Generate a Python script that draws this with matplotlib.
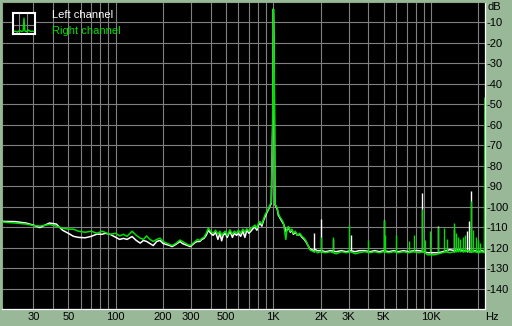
import matplotlib
matplotlib.use("Agg")
import matplotlib.pyplot as plt

plt.rcParams['font.family'] = ['Liberation Sans', 'DejaVu Sans']

# ---------------- data ----------------
freq = [19, 23, 27, 30, 33, 38, 42, 46, 50, 54, 58, 64, 70, 76, 82, 86, 92, 100,
        106, 112, 118, 127, 135, 143, 150, 157, 165, 173, 182, 191, 200, 210, 220,
        228, 240, 256, 265, 275, 286, 297, 308, 319, 330, 342, 352, 363, 375, 387,
        400, 415, 430, 445, 458, 470, 480, 495, 510, 530, 550, 565, 585, 600, 620,
        640, 660, 678, 700, 720, 747, 765, 786, 805, 822, 845, 864, 885, 908, 930,
        953, 970, 990, 1000, 1010, 1023, 1040, 1060, 1074, 1100, 1130, 1160, 1200,
        1220, 1245, 1280, 1310, 1340, 1380, 1420, 1470, 1520, 1570, 1620, 1660,
        1700, 1750, 1800, 1850, 1900, 2000, 2150, 2300, 2500, 2700, 2900, 3100,
        3300, 3500, 3800, 4100, 4400, 4700, 5000, 5400, 5800, 6200, 6700, 7200,
        7800, 8400, 9000, 9500, 10000, 10600, 11200, 11800, 12500, 13200, 14000,
        15000, 16000, 17000, 18000, 19000, 20000, 21000, 21800, 21950]

right_db = [-107.5, -108, -108.5, -109.2, -109.5, -108.7, -109.5, -110.5, -111, -111,
            -112, -112.5, -112, -113, -112, -112.6, -113.5, -113,
            -114.3, -113.5, -114.5, -112, -114, -115.4, -116, -114.3, -116, -117,
            -116, -115.4, -117, -117.8, -118.5, -119, -118, -116.3, -117, -117.8,
            -118.5, -119, -118, -117, -116, -116.5, -115.5, -115, -113, -110.5,
            -112, -113, -111.5, -113.5, -112, -114, -113, -112, -114, -111.3,
            -113.5, -112, -113, -111.5, -113, -111, -112.5, -110.8, -112, -110.5,
            -109.7, -109, -110.5, -108, -107.3, -108.5, -106.4, -104, -102.4, -101,
            -99, -98, -60, -3.5, -20, -98.6, -99.5, -101, -103.2, -105, -106.4,
            -108, -116, -111, -109.7, -112, -111, -113, -112, -114, -113, -114.5,
            -115.5, -117, -119, -121, -121.5, -122, -121.5, -122.5, -122, -122.5,
            -122, -123, -122, -122.5, -122, -123, -122.5, -122, -122.5, -122,
            -122.5, -122, -122.5, -122, -122.5, -122, -122.5, -122, -122.5, -122,
            -123.5, -123.5, -123.5, -123, -122.5, -122, -122.5, -122, -121.5, -122,
            -121.5, -122, -122, -122.5, -122, -122.5, -47]

left_db = [-107.2, -107.3, -108, -109, -110.2, -108, -108.5, -111.5, -113, -114.5,
           -115, -115.2, -114.5, -113.4, -113.5, -113, -113.5, -115,
           -116, -115.5, -116, -114.6, -116.5, -117.8, -116.5, -117, -118, -119,
           -117, -116.5, -118, -118.5, -119, -119.5, -118.5, -117, -118, -118.5,
           -119, -119.5, -118.5, -117.5, -117, -117, -116, -115.5, -114, -111.5,
           -113, -114, -112.5, -116, -113, -116.7, -114, -113, -115, -112,
           -115, -113, -114, -113, -114.5, -112, -115, -111.5, -113, -112,
           -110.5, -110, -111.5, -109, -108, -109.5, -107, -105, -103, -101.5,
           -99.5, -98.5, -60, -3.5, -20, -99, -100, -101.5, -104, -105.5, -107,
           -108.5, -112, -111.5, -110, -112.5, -111.5, -113.5, -112.5, -114,
           -113.5, -115, -116, -117.5, -119, -120.5, -121, -121.5, -121, -121.5,
           -121.5, -122, -121.5, -122, -121.5, -122, -121.5, -122, -121.5, -121.5,
           -122, -121.5, -122, -121.5, -122, -121.5, -122, -121.5, -122, -121.5,
           -121.5, -122, -122.5, -122.5, -122.5, -122.5, -122, -121.5, -121, -121.5,
           -121, -121.5, -121.5, -122, -121.5, -122, -121.5, -122, -122]

left_spike_freq = [1800, 2000, 2400, 3100, 5000, 8800, 11000, 13900, 17000, 17500, 17900]
left_spike_db = [-113, -106, -116, -114, -106.5, -93.4, -109.4, -111, -111.7, -107, -92.3]

right_spike_freq = [2000, 2400, 3000, 4000, 5000, 5100, 6000, 7200, 7800, 8800, 9200,
                    9800, 11000, 12100, 12700, 14000, 14400, 14800, 15300, 15900,
                    16500, 17900, 18400, 19200, 19900, 20500]
right_spike_db = [-115, -115, -109, -116.5, -106.5, -114, -114, -117, -114, -101, -116.5,
                  -112, -110, -110.4, -116, -107.8, -113, -114.6, -116, -115,
                  -113.8, -97.2, -111.6, -115, -116.3, -117.6]
spike_floor = -122

grid_freqs = [30, 40, 50, 60, 70, 80, 90, 100, 200, 300, 400, 500, 600, 700, 800, 900,
              1000, 2000, 3000, 4000, 5000, 6000, 7000, 8000, 9000, 10000, 20000]
x_labels = {30: '30', 50: '50', 100: '100', 200: '200', 300: '300', 500: '500',
            1000: '1K', 2000: '2K', 3000: '3K', 5000: '5K', 10000: '10K'}
y_ticks = [-10, -20, -30, -40, -50, -60, -70, -80, -90, -100, -110, -120, -130, -140]

icon_x = [0, 1, 2, 3, 4, 4.6, 5, 5.4, 6, 7, 8, 9, 10]
icon_y = [1.2, 1.5, 1.0, 1.8, 1.3, 1.6, 7.5, 1.6, 1.2, 2.0, 1.3, 1.5, 1.1]

# ---------------- style ----------------
W, H = 512, 326
BG = '#98b898'
GREEN = '#00e000'
GRID = '#808080'

fig = plt.figure(figsize=(W / 100, H / 100), dpi=100, facecolor=BG)
ax = fig.add_axes([2 / W, 1 - 309 / H, 483 / W, 307 / H])
ax.set_facecolor('black')
ax.set_xscale('log')
ax.set_xlim(19, 22000)
ax.set_ylim(-150, 0)

ax.set_xticks(grid_freqs, labels=[x_labels.get(f, '') for f in grid_freqs])
ax.xaxis.set_minor_locator(matplotlib.ticker.NullLocator())
ax.set_yticks(y_ticks, labels=[str(v) for v in y_ticks])
ax.yaxis.tick_right()
ax.tick_params(axis='x', length=0, pad=2, labelsize=8, colors='black')
ax.tick_params(axis='y', length=0, pad=1, labelsize=8, colors='black')
for lbl in ax.get_yticklabels():
    lbl.set_horizontalalignment('left')
ax.grid(True, color=GRID, linewidth=0.8)
ax.set_axisbelow(True)

for side in ('left', 'top'):
    ax.spines[side].set_color('#88a888')
    ax.spines[side].set_linewidth(0.8)
for side in ('right', 'bottom'):
    ax.spines[side].set_color('white')
    ax.spines[side].set_linewidth(0.9)

ax.plot(freq, left_db, color='white', linewidth=1.1, zorder=3)
ax.vlines(left_spike_freq, spike_floor, left_spike_db, color='white', linewidth=1.0, zorder=3)
ax.plot(freq, right_db, color=GREEN, linewidth=1.1, zorder=4)
ax.vlines(right_spike_freq, spike_floor, right_spike_db, color=GREEN, linewidth=1.0, zorder=4)

# axis unit labels
fig.text(487 / W, 1 - 7.5 / H, 'dB', fontsize=8, ha='left', va='center', color='black')
fig.text(485 / W, 1 - 317 / H, 'Hz', fontsize=8, ha='left', va='center', color='black')

# legend
iax = fig.add_axes([13 / W, 1 - 34.3 / H, 22 / W, 21.5 / H])
iax.set_facecolor('black')
iax.set_xlim(0, 10)
iax.set_ylim(0, 10)
iax.set_xticks([2.5, 6.5])
iax.set_yticks([4.5])
iax.tick_params(length=0, labelbottom=False, labelleft=False)
iax.grid(True, color=GRID, linewidth=0.8)
for s in iax.spines.values():
    s.set_color('white')
    s.set_linewidth(1.5)
iax.plot(icon_x, icon_y, color=GREEN, linewidth=1.0)

fig.text(52 / W, 1 - 15 / H, 'Left channel', fontsize=8, color='white', ha='left', va='center')
fig.text(52 / W, 1 - 31 / H, 'Right channel', fontsize=8, color=GREEN, ha='left', va='center')

fig.savefig('out.png', dpi=100, facecolor=BG)
